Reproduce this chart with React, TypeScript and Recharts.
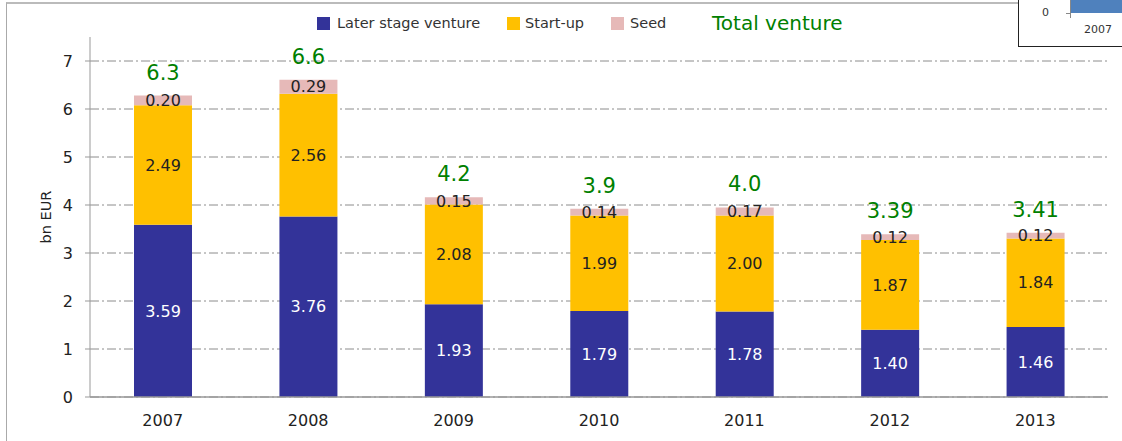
import React from 'react';
import { BarChart, Bar, XAxis, YAxis, CartesianGrid, LabelList } from 'recharts';

const years = ['2007', '2008', '2009', '2010', '2011', '2012', '2013'];
const laterStage = [3.59, 3.76, 1.93, 1.79, 1.78, 1.4, 1.46];
const startUp = [2.49, 2.56, 2.08, 1.99, 2.0, 1.87, 1.84];
const seed = [0.2, 0.29, 0.15, 0.14, 0.17, 0.12, 0.12];
const totalLabels = ['6.3', '6.6', '4.2', '3.9', '4.0', '3.39', '3.41'];
const yTicks = [0, 1, 2, 3, 4, 5, 6, 7];

const seriesNames = ['Later stage venture', 'Start-up', 'Seed'];
const seriesColors = ['#333399', '#FFC000', '#E6B9B8'];
const totalName = 'Total venture';

const data = years.map((y, i) => ({
  year: y,
  later: laterStage[i],
  startup: startUp[i],
  seed: seed[i],
  total: totalLabels[i],
}));

const FONT = '"DejaVu Sans", sans-serif';
const fmt = (v: any) => Number(v).toFixed(2);

const TotalLabel = (props: any) => {
  const { x, y, width, value } = props;
  return (
    <text x={x + width / 2} y={y - 16} textAnchor="middle" fill="#008000" fontSize={21} fontFamily={FONT}>
      {value}
    </text>
  );
};

const YLabel = (props: any) => {
  const vb = props.viewBox || { x: 30, y: 37, width: 60, height: 360 };
  const cx = vb.x + 16;
  const cy = vb.y + vb.height / 2;
  return (
    <text x={cx} y={cy} transform={`rotate(-90 ${cx} ${cy})`} textAnchor="middle" dominantBaseline="central" fontSize={14.5} fill="#222" fontFamily={FONT}>
      bn EUR
    </text>
  );
};

const legendLefts = [317, 507, 611];
const legendTextLefts = [337, 525, 630];

export default function App() {
  return (
    <div style={{ position: 'fixed', left: 0, top: 0, width: 1122, height: 441, background: '#fff', overflow: 'hidden', fontFamily: FONT }}>
      <div style={{ position: 'absolute', left: 6, top: 2, width: 1200, height: 500, borderLeft: '1.5px solid #aaa', borderTop: '2px solid #bbb' }} />
      <div style={{ position: 'absolute', left: 0, top: 0 }}>
        <BarChart width={1122} height={441} data={data} margin={{ top: 37, right: 14, bottom: 14, left: 30 }} barSize={58}>
          <CartesianGrid vertical={false} stroke="#8c8c8c" strokeDasharray="9 3 2 3" syncWithTicks />
          <XAxis dataKey="year" tickLine={false} tickSize={0} tickMargin={18} axisLine={{ stroke: '#999', strokeWidth: 1.5 }} tick={{ fontSize: 16, fill: '#222', fontFamily: FONT }} height={30} />
          <YAxis domain={[0, 7.5]} ticks={yTicks} width={60} tickSize={5} tickMargin={12} axisLine={{ stroke: '#999' }} tickLine={{ stroke: '#999' }} tick={{ fontSize: 16, fill: '#222', fontFamily: FONT }} label={<YLabel />} allowDataOverflow />
          <Bar dataKey="later" stackId="a" fill={seriesColors[0]} isAnimationActive={false}>
            <LabelList dataKey="later" position="center" fill="#fff" fontSize={16} fontFamily={FONT} formatter={fmt} />
          </Bar>
          <Bar dataKey="startup" stackId="a" fill={seriesColors[1]} isAnimationActive={false}>
            <LabelList dataKey="startup" position="center" fill="#222" fontSize={16} fontFamily={FONT} formatter={fmt} />
          </Bar>
          <Bar dataKey="seed" stackId="a" fill={seriesColors[2]} isAnimationActive={false}>
            <LabelList dataKey="seed" position="center" fill="#222" fontSize={16} fontFamily={FONT} formatter={fmt} />
            <LabelList dataKey="total" content={<TotalLabel />} />
          </Bar>
        </BarChart>
      </div>
      {seriesNames.map((n, i) => (
        <React.Fragment key={n}>
          <div style={{ position: 'absolute', left: legendLefts[i], top: 17, width: 13, height: 13, background: seriesColors[i] }} />
          <div style={{ position: 'absolute', left: legendTextLefts[i], top: 13, fontSize: 14.5, color: '#333', whiteSpace: 'nowrap', lineHeight: '20px' }}>{n}</div>
        </React.Fragment>
      ))}
      <div style={{ position: 'absolute', left: 712, top: 10, fontSize: 20, color: '#008000', whiteSpace: 'nowrap', lineHeight: '26px' }}>{totalName}</div>
      <div style={{ position: 'absolute', left: 1018, top: -2, width: 120, height: 48, borderLeft: '1px solid #222', borderBottom: '1px solid #222', background: '#fff' }}>
        <div style={{ position: 'absolute', left: 52, top: 0, width: 60, height: 15, background: '#4F81BD' }} />
        <div style={{ position: 'absolute', left: 51, top: 0, width: 1, height: 20, background: '#888' }} />
        <div style={{ position: 'absolute', left: 47, top: 15, width: 5, height: 1, background: '#888' }} />
        <div style={{ position: 'absolute', left: 23, top: 8, fontSize: 11, color: '#333' }}>0</div>
        <div style={{ position: 'absolute', left: 65, top: 25, fontSize: 11, color: '#333' }}>2007</div>
      </div>
    </div>
  );
}
